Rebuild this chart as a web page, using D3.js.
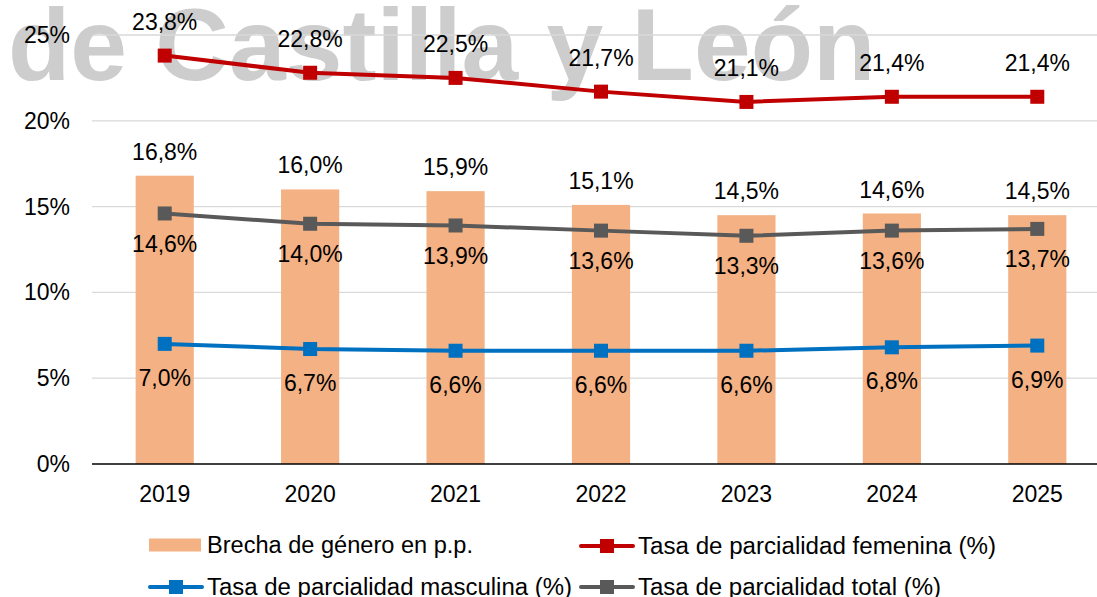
<!DOCTYPE html>
<html>
<head>
<meta charset="utf-8">
<script src="https://cdn.jsdelivr.net/npm/d3@7"></script>
<style>
  body { margin: 0; background: #fff; }
  svg { display: block; font-family: "Liberation Sans", Arial, sans-serif; }
</style>
</head>
<body>
<div id="chart"></div>
<script>
const years = ['2019', '2020', '2021', '2022', '2023', '2024', '2025'];
const brecha = [16.8, 16.0, 15.9, 15.1, 14.5, 14.6, 14.5];
const femenina = [23.8, 22.8, 22.5, 21.7, 21.1, 21.4, 21.4];
const masculina = [7.0, 6.7, 6.6, 6.6, 6.6, 6.8, 6.9];
const total = [14.6, 14.0, 13.9, 13.6, 13.3, 13.6, 13.7];
const yTicks = [0, 5, 10, 15, 20, 25];

const width = 1097, height = 597;
const margin = {top: 35, right: -13, bottom: 133, left: 92};
const fontSize = '23px';

const colors = {
  bar: '#F4B183',
  fem: '#C00000',
  mas: '#0070C0',
  tot: '#595959',
};

const fmt = v => d3.format('.1f')(v).replace('.', ',') + '%';

const svg = d3.select('#chart')
  .append('svg')
  .attr('width', width)
  .attr('height', height);

// watermark
svg.append('text')
  .attr('x', 8)
  .attr('y', 80)
  .attr('fill', '#cdcdcd')
  .style('font-size', '102px')
  .style('font-weight', 'bold')
  .text('de Castilla y León');

const x = d3.scaleBand()
  .domain(years)
  .range([margin.left, width - margin.right])
  .paddingInner(0.6)
  .paddingOuter(0.3);

const y = d3.scaleLinear()
  .domain([0, 25])
  .range([height - margin.bottom, margin.top]);

const cx = d => x(d) + x.bandwidth() / 2;

// grid
svg.append('g')
  .selectAll('line')
  .data(yTicks.filter(d => d > 0))
  .join('line')
  .attr('x1', margin.left)
  .attr('x2', width)
  .attr('y1', d => y(d))
  .attr('y2', d => y(d))
  .attr('stroke', '#d9d9d9')
  .attr('stroke-width', 1.3);

// y axis labels
svg.append('g')
  .style('font-size', fontSize)
  .selectAll('text')
  .data(yTicks)
  .join('text')
  .attr('x', 70)
  .attr('y', d => y(d))
  .attr('dy', '0.35em')
  .attr('text-anchor', 'end')
  .text(d => d + '%');

// bars
const bars = years.map((d, i) => ({year: d, v: brecha[i]}));
svg.append('g')
  .attr('fill', colors.bar)
  .selectAll('rect')
  .data(bars)
  .join('rect')
  .attr('x', d => x(d.year))
  .attr('width', x.bandwidth())
  .attr('y', d => y(d.v))
  .attr('height', d => y(0) - y(d.v));

// x axis line
svg.append('line')
  .attr('x1', margin.left)
  .attr('x2', width)
  .attr('y1', y(0))
  .attr('y2', y(0))
  .attr('stroke', '#000')
  .attr('stroke-width', 1.5);

// x labels
svg.append('g')
  .style('font-size', fontSize)
  .selectAll('text')
  .data(years)
  .join('text')
  .attr('x', d => cx(d))
  .attr('y', y(0) + 30)
  .attr('dy', '0.35em')
  .attr('text-anchor', 'middle')
  .text(d => d);

// bar labels
svg.append('g')
  .style('font-size', fontSize)
  .selectAll('text')
  .data(bars)
  .join('text')
  .attr('x', d => cx(d.year))
  .attr('y', d => y(d.v) - 24)
  .attr('dy', '0.35em')
  .attr('text-anchor', 'middle')
  .text(d => fmt(d.v));

const line = d3.line()
  .x(d => cx(d.year))
  .y(d => y(d.v));

const series = [
  {key: 'fem', values: femenina, color: colors.fem, dy: -34},
  {key: 'tot', values: total, color: colors.tot, dy: 30},
  {key: 'mas', values: masculina, color: colors.mas, dy: 34},
];

series.forEach(s => {
  const pts = years.map((d, i) => ({year: d, v: s.values[i]}));
  const g = svg.append('g');
  g.append('path')
    .attr('fill', 'none')
    .attr('stroke', s.color)
    .attr('stroke-width', 4)
    .attr('d', line(pts));
  g.selectAll('rect')
    .data(pts)
    .join('rect')
    .attr('x', d => cx(d.year) - 7)
    .attr('y', d => y(d.v) - 7)
    .attr('width', 14)
    .attr('height', 14)
    .attr('fill', s.color);
  g.selectAll('text')
    .data(pts)
    .join('text')
    .style('font-size', fontSize)
    .attr('x', d => cx(d.year))
    .attr('y', d => y(d.v) + s.dy)
    .attr('dy', '0.35em')
    .attr('text-anchor', 'middle')
    .text(d => fmt(d.v));
});

// legend (text widths matched to the reference rendering)
const legend = [
  {label: 'Brecha de género en p.p.', type: 'bar', color: colors.bar, x: 149, y: 545, len: 266},
  {label: 'Tasa de parcialidad femenina (%)', type: 'line', color: colors.fem, x: 579, y: 546, len: 358},
  {label: 'Tasa de parcialidad masculina (%)', type: 'line', color: colors.mas, x: 148, y: 587, len: 365},
  {label: 'Tasa de parcialidad total (%)', type: 'line', color: colors.tot, x: 579, y: 587, len: 303},
];

const lg = svg.append('g')
  .selectAll('g')
  .data(legend)
  .join('g')
  .attr('transform', d => `translate(${d.x},${d.y})`);

lg.filter(d => d.type === 'bar')
  .append('rect')
  .attr('x', 0)
  .attr('y', -6.5)
  .attr('width', 52)
  .attr('height', 13)
  .attr('fill', d => d.color);

lg.filter(d => d.type === 'line')
  .call(g => g.append('line')
    .attr('x1', 2)
    .attr('x2', 54)
    .attr('stroke', d => d.color)
    .attr('stroke-linecap', 'round')
    .attr('stroke-width', 4))
  .call(g => g.append('rect')
    .attr('x', 21)
    .attr('y', -7)
    .attr('width', 14)
    .attr('height', 14)
    .attr('fill', d => d.color));

lg.append('text')
  .attr('x', d => d.type === 'bar' ? 58 : 59)
  .attr('dy', '0.35em')
  .attr('textLength', d => d.len)
  .attr('lengthAdjust', 'spacingAndGlyphs')
  .style('font-size', fontSize)
  .text(d => d.label);
</script>
</body>
</html>
